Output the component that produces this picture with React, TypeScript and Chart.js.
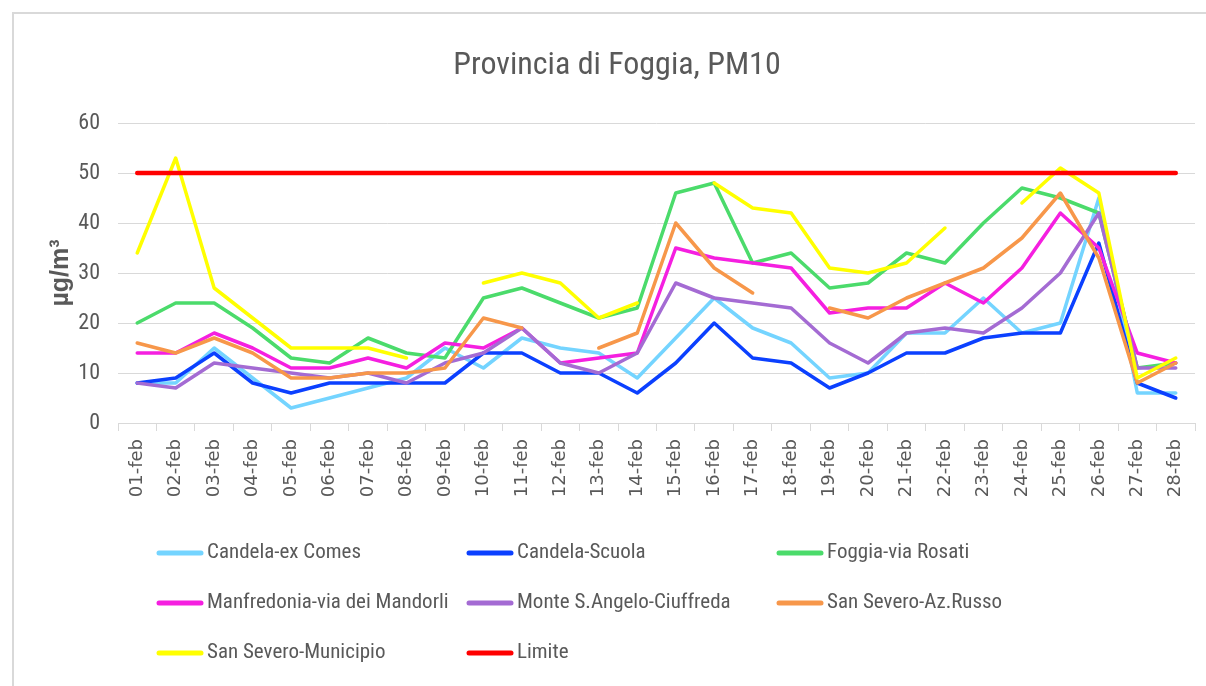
import React, { useEffect, useRef } from "react";
import { Chart, registerables } from "chart.js";

Chart.register(...registerables);

const categories = [
  "01-feb", "02-feb", "03-feb", "04-feb", "05-feb", "06-feb", "07-feb",
  "08-feb", "09-feb", "10-feb", "11-feb", "12-feb", "13-feb", "14-feb",
  "15-feb", "16-feb", "17-feb", "18-feb", "19-feb", "20-feb", "21-feb",
  "22-feb", "23-feb", "24-feb", "25-feb", "26-feb", "27-feb", "28-feb",
];

const candelaExComes = [8, 8, 15, 9, 3, 5, 7, 9, 15, 11, 17, 15, 14, 9, 17, 25, 19, 16, 9, 10, 18, 18, 25, 18, 20, 45, 6, 6];
const candelaScuola = [8, 9, 14, 8, 6, 8, 8, 8, 8, 14, 14, 10, 10, 6, 12, 20, 13, 12, 7, 10, 14, 14, 17, 18, 18, 36, 8, 5];
const foggiaRosati = [20, 24, 24, 19, 13, 12, 17, 14, 13, 25, 27, 24, 21, 23, 46, 48, 32, 34, 27, 28, 34, 32, 40, 47, 45, 42, 11, 12];
const manfredonia = [14, 14, 18, 15, 11, 11, 13, 11, 16, 15, 19, 12, 13, 14, 35, 33, 32, 31, 22, 23, 23, 28, 24, 31, 42, 35, 14, 12];
const monteSAngelo = [8, 7, 12, 11, 10, 9, 10, 8, 12, 14, 19, 12, 10, 14, 28, 25, 24, 23, 16, 12, 18, 19, 18, 23, 30, 42, 11, 11];
const sanSeveroRusso = [16, 14, 17, 14, 9, 9, 10, 10, 11, 21, 19, null, 15, 18, 40, 31, 26, null, 23, 21, 25, 28, 31, 37, 46, 33, 8, 12];
const sanSeveroMunicipio = [34, 53, 27, 21, 15, 15, 15, 13, null, 28, 30, 28, 21, 24, null, 48, 43, 42, 31, 30, 32, 39, null, 44, 51, 46, 9, 13];
const limite = [50, 50, 50, 50, 50, 50, 50, 50, 50, 50, 50, 50, 50, 50, 50, 50, 50, 50, 50, 50, 50, 50, 50, 50, 50, 50, 50, 50];

const seriesNames = [
  "Candela-ex Comes",
  "Candela-Scuola",
  "Foggia-via Rosati",
  "Manfredonia-via dei Mandorli",
  "Monte S.Angelo-Ciuffreda",
  "San Severo-Az.Russo",
  "San Severo-Municipio",
  "Limite",
];
const seriesValues = [candelaExComes, candelaScuola, foggiaRosati, manfredonia, monteSAngelo, sanSeveroRusso, sanSeveroMunicipio, limite];
const seriesColors = ["#74d4ff", "#0b40ff", "#4bdb6b", "#f51fe0", "#a46bd3", "#f7974a", "#ffff00", "#ff0000"];
const seriesWidths = [3.5, 3.5, 3.5, 3.5, 3.5, 3.5, 3.5, 4.5];

const titleText = "Provincia di Foggia, PM10";
const yTitleText = "µg/m³";
const yTicks = { min: 0, max: 60, step: 10 };

const NARROW = '"Liberation Sans Narrow", "Roboto Condensed", "Open Sans", sans-serif';
const GREY = "#595959";

const framePlugin = {
  id: "frame",
  beforeDraw(chart: any) {
    const ctx = chart.ctx;
    ctx.save();
    ctx.fillStyle = "#ffffff";
    ctx.fillRect(0, 0, chart.width, chart.height);
    ctx.strokeStyle = "#d9d9d9";
    ctx.lineWidth = 2;
    ctx.beginPath();
    ctx.moveTo(13, chart.height);
    ctx.lineTo(13, 13);
    ctx.lineTo(chart.width, 13);
    ctx.stroke();
    ctx.fillStyle = GREY;
    ctx.font = `32px ${NARROW}`;
    ctx.textAlign = "center";
    ctx.textBaseline = "middle";
    ctx.fillText(titleText, 617, 66);
    ctx.restore();
  },
  afterDraw(chart: any) {
    const ctx = chart.ctx;
    ctx.save();
    const cols = [157, 467, 777];
    const rows = [553, 603, 653];
    chart.data.datasets.forEach((ds: any, i: number) => {
      const x = cols[i % 3];
      const y = rows[Math.floor(i / 3)];
      ctx.strokeStyle = ds.borderColor;
      ctx.lineWidth = 5;
      ctx.lineCap = "round";
      ctx.beginPath();
      ctx.moveTo(x + 2, y);
      ctx.lineTo(x + 44, y);
      ctx.stroke();
      ctx.fillStyle = GREY;
      ctx.font = `21px ${NARROW}`;
      ctx.textAlign = "left";
      ctx.textBaseline = "middle";
      ctx.fillText(ds.label, x + 50, y);
    });
    ctx.restore();
  },
};

export default function App() {
  const ref = useRef<HTMLCanvasElement | null>(null);
  useEffect(() => {
    document.body.style.margin = "0";
    if (!ref.current) return;
    const n = seriesNames.length;
    const chart = new Chart(ref.current, {
      type: "line",
      data: {
        labels: categories,
        datasets: seriesNames.map((name, i) => ({
          label: name,
          data: seriesValues[i],
          borderColor: seriesColors[i],
          backgroundColor: seriesColors[i],
          borderWidth: seriesWidths[i],
          pointRadius: 0,
          pointHoverRadius: 0,
          tension: 0,
          spanGaps: false,
          borderJoinStyle: "round",
          borderCapStyle: "round",
          fill: false,
          order: n - i,
        })),
      },
      options: {
        responsive: false,
        animation: false,
        layout: { padding: { left: 46, right: 11, top: 123, bottom: 163 } },
        plugins: {
          legend: { display: false },
          title: { display: false },
          tooltip: { enabled: false },
        },
        scales: {
          x: {
            offset: true,
            grid: {
              offset: true,
              drawOnChartArea: false,
              drawTicks: true,
              tickLength: 8,
              color: "#d9d9d9",
              lineWidth: 1,
            },
            border: { display: true, color: "#d9d9d9", width: 1 },
            ticks: {
              autoSkip: false,
              minRotation: 90,
              maxRotation: 90,
              padding: 8,
              color: GREY,
              font: { family: "DejaVu Sans", size: 18 },
            },
            afterFit(scale: any) {
              scale.height = 100;
            },
          },
          y: {
            min: yTicks.min,
            max: yTicks.max,
            ticks: {
              stepSize: yTicks.step,
              padding: 18,
              color: GREY,
              font: { family: NARROW, size: 22 },
            },
            grid: { color: "#d9d9d9", lineWidth: 1, drawTicks: false },
            border: { display: false },
            title: {
              display: true,
              text: yTitleText,
              color: GREY,
              padding: 0,
              font: { family: '"Liberation Sans", Arial, sans-serif', size: 25, weight: "bold" },
            },
            afterFit(scale: any) {
              scale.width = 72;
            },
          },
        },
      },
      plugins: [framePlugin],
    } as any);
    return () => chart.destroy();
  }, []);
  return (
    <div style={{ width: 1206, height: 686, position: "relative" }}>
      <canvas ref={ref} width={1206} height={686} style={{ display: "block" }} />
    </div>
  );
}
